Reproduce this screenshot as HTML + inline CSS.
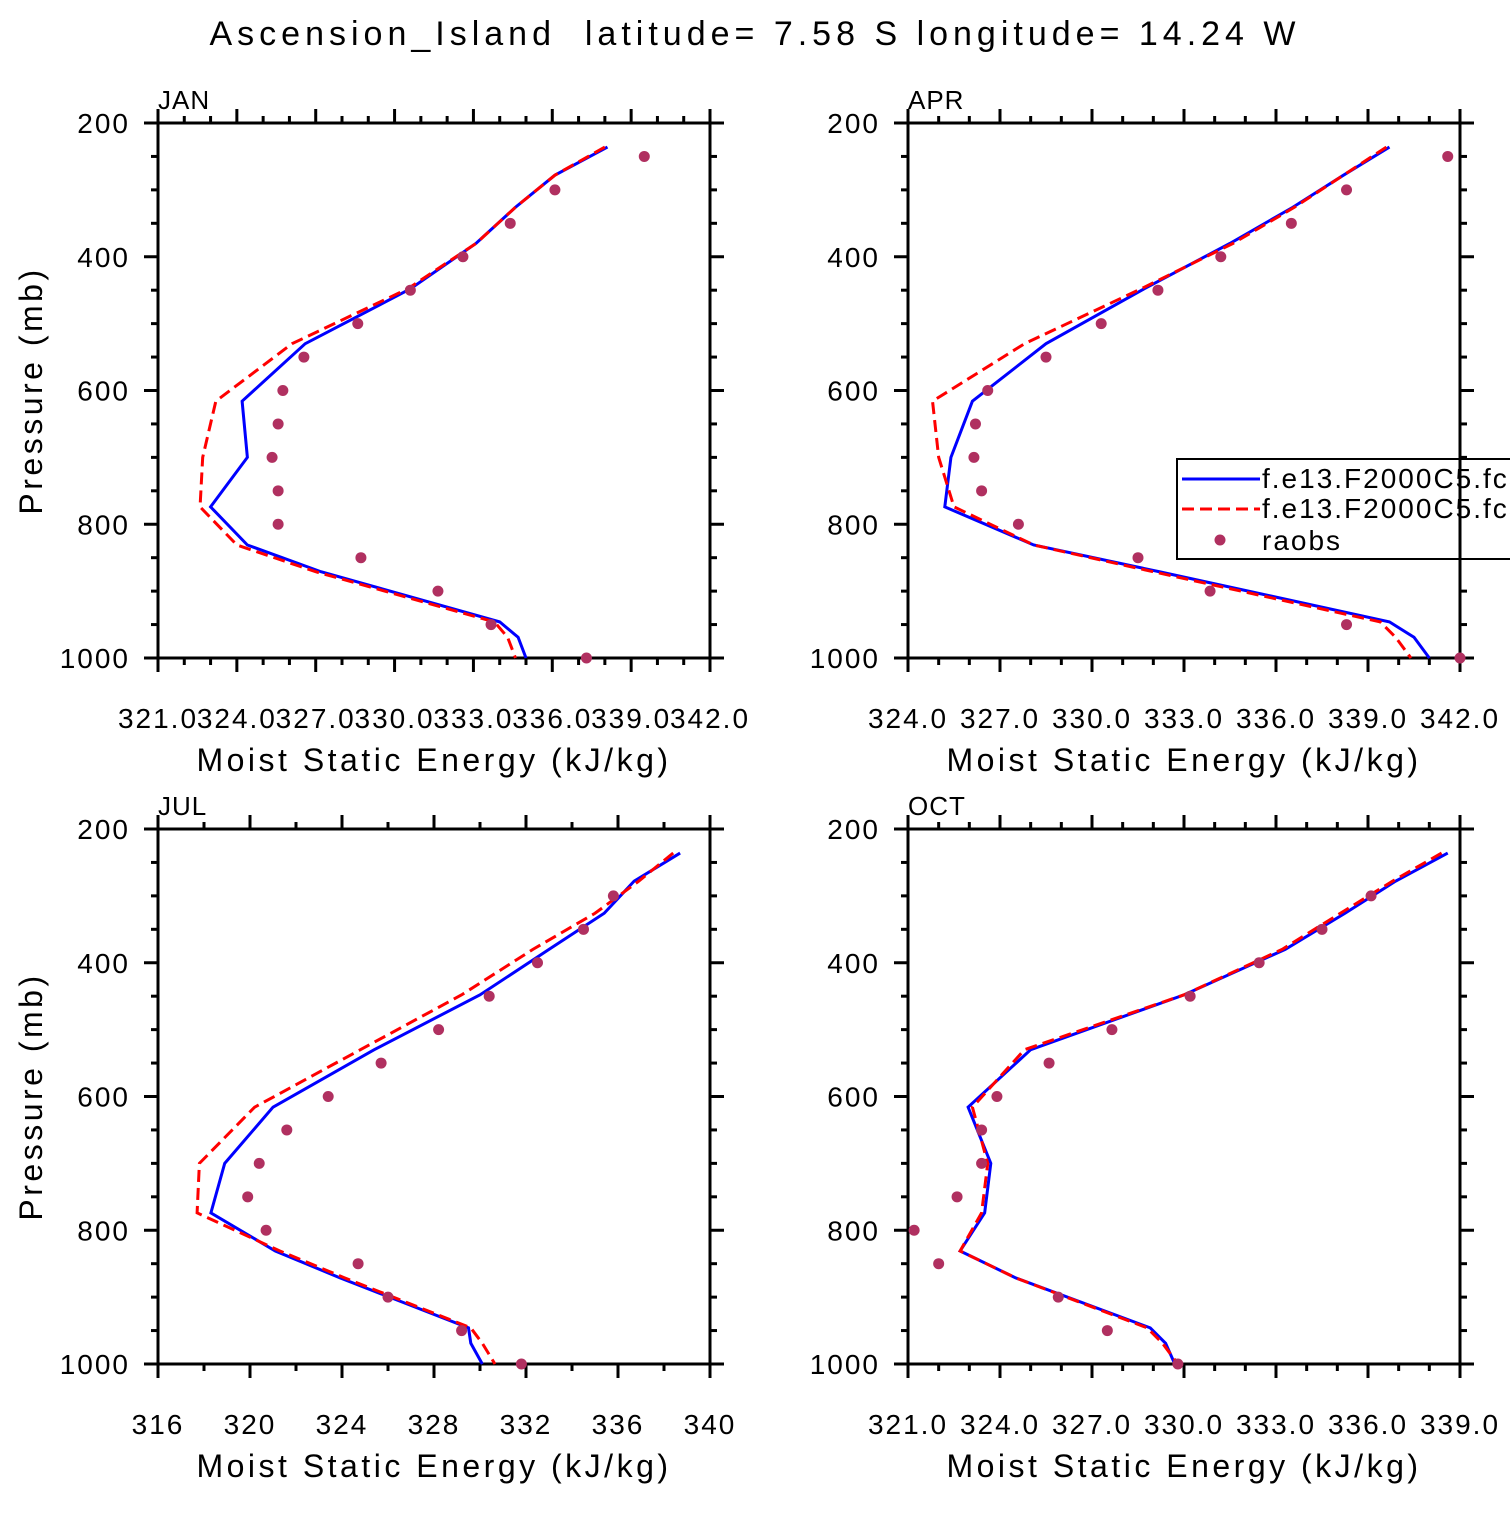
<!DOCTYPE html>
<html><head><meta charset="utf-8"><style>
body{margin:0;background:#fff;}
svg text{font-family:"Liberation Sans",sans-serif;fill:#000;}
</style></head><body>
<svg id="chart" width="1510" height="1510" xmlns="http://www.w3.org/2000/svg">
<rect x="0" y="0" width="1510" height="1510" fill="#fff"/>
<text x="755" y="45" font-size="34" text-anchor="middle" letter-spacing="5" xml:space="preserve">Ascension_Island  latitude= 7.58 S longitude= 14.24 W</text>
</svg>
<script>
const modelP=[236,278,326,380,448,530,616,700,774,831,871,946,969,1000];
const obsP=[250,300,350,400,450,500,550,600,650,700,750,800,850,900,950,1000];
const janBlue=[338.1,336.1,334.6,333.1,330.6,326.6,324.2,324.4,323.0,324.4,327.2,334.0,334.7,335.0];
const janRed=[338.0,336.1,334.6,333.1,330.5,326.1,323.2,322.7,322.6,324.0,327.0,333.8,334.3,334.6];
const janObs=[339.5,336.1,334.4,332.6,330.6,328.6,326.55,325.75,325.57,325.34,325.57,325.57,328.72,331.65,333.67,337.3];
const aprBlue=[339.7,338.2,336.55,334.5,331.7,328.5,326.1,325.4,325.2,328.1,332.2,339.7,340.5,341.0];
const aprRed=[339.6,338.2,336.6,334.6,331.6,327.8,324.8,325.0,325.5,328.1,332.0,339.4,339.9,340.4];
const aprObs=[341.6,338.3,336.5,334.2,332.15,330.3,328.5,326.6,326.2,326.15,326.4,327.6,331.5,333.85,338.3,342.0];
const julBlue=[338.7,336.7,335.4,333.0,330.0,325.4,321.0,318.9,318.3,321.1,323.9,329.5,329.6,330.1];
const julRed=[338.4,336.9,335.0,332.3,329.2,324.8,320.2,317.8,317.7,321.3,324.1,329.6,330.1,330.65];
const julObs=[null,335.8,334.5,332.5,330.4,328.2,325.7,323.4,321.6,320.4,319.9,320.7,324.7,326.0,329.2,331.8];
const octBlue=[338.6,336.9,335.25,333.3,330.0,325.0,322.96,323.7,323.5,322.7,324.5,328.9,329.4,329.7];
const octRed=[338.4,336.8,335.1,333.2,330.0,324.8,323.1,323.6,323.4,322.7,324.5,328.8,329.3,329.8];
const octObs=[null,336.1,334.5,332.45,330.2,327.65,325.6,323.9,323.4,323.4,322.6,321.2,322.0,325.9,327.5,329.8];
const janTicks=["321.0","324.0","327.0","330.0","333.0","336.0","339.0","342.0"];
const aprTicks=["324.0","327.0","330.0","333.0","336.0","339.0","342.0"];
const julTicks=["316","320","324","328","332","336","340"];
const octTicks=["321.0","324.0","327.0","330.0","333.0","336.0","339.0"];
const yTicks=[200,400,600,800,1000];

const NS="http://www.w3.org/2000/svg";
const svg=document.getElementById('chart');
function mk(tag,attrs,parent){const e=document.createElementNS(NS,tag);for(const k in attrs)e.setAttribute(k,attrs[k]);(parent||svg).appendChild(e);return e;}

function panel(name,x0,y0,xmin,xmax,step,minor,ticks,blue,red,obs,showY){
  const W=552,H=535,x1=x0+W,y1=y0+H;
  const g=mk('g',{});
  
  
  const sx=v=>x0+(v-xmin)/(xmax-xmin)*W;
  const sy=p=>y0+(p-200)/800*H;
  for(let v=xmin;v<=xmax+1e-9;v+=minor){
    const major=Math.abs(((v-xmin)/step)-Math.round((v-xmin)/step))<1e-6;
    const L=major?14:7;
    mk('line',{x1:sx(v),x2:sx(v),y1:y1,y2:y1+L,stroke:'#000','stroke-width':3},g);
    mk('line',{x1:sx(v),x2:sx(v),y1:y0,y2:y0-L,stroke:'#000','stroke-width':3},g);
  }
  for(let p=200;p<=1000;p+=50){
    const major=p%200===0;const L=major?14:7;
    mk('line',{x1:x0,x2:x0-L,y1:sy(p),y2:sy(p),stroke:'#000','stroke-width':3},g);
    mk('line',{x1:x1,x2:x1+L,y1:sy(p),y2:sy(p),stroke:'#000','stroke-width':3},g);
  }
  const frame=mk('rect',{x:x0,y:y0,width:W,height:H,fill:'none',stroke:'#000','stroke-width':3},g);
  
  
  ticks.forEach((t,i)=>{
    const tx=mk('text',{x:sx(xmin+i*step),y:y1+70,'font-size':28,'text-anchor':'middle','letter-spacing':'2'},g);
    tx.textContent=t;
    
    
  });
  yTicks.forEach(p=>{
    const tx=mk('text',{x:x0-28,y:sy(p)+10,'font-size':28,'text-anchor':'end','letter-spacing':'2'},g);
    tx.textContent=p;
    
    
  });
  const xt=mk('text',{x:x0+W/2,y:y1+113,'font-size':32,'text-anchor':'middle','letter-spacing':'3.5'},g);
  xt.textContent='Moist Static Energy (kJ/kg)';
  
  
  if(showY){
    const yt=mk('text',{x:0,y:0,'font-size':32,'text-anchor':'middle','letter-spacing':'3.5',transform:`translate(42,${y0+H/2}) rotate(-90)`},g);
    yt.textContent='Pressure (mb)';
    
    
  }
  const lb=mk('text',{x:x0,y:y0-14,'font-size':26,'letter-spacing':'1'},g);
  lb.textContent=name.toUpperCase();
  
  
  const pb=mk('polyline',{points:blue.map((v,i)=>sx(v)+','+sy(modelP[i])).join(' '),fill:'none',stroke:'#0000ff','stroke-width':3},g);
  
  
  const pr=mk('polyline',{points:red.map((v,i)=>sx(v)+','+sy(modelP[i])).join(' '),fill:'none',stroke:'#ff0000','stroke-width':3,'stroke-dasharray':'12,6'},g);
  
  
  obs.forEach((v,i)=>{
    if(v===null)return;
    const c=mk('circle',{cx:sx(v),cy:sy(obsP[i]),r:5.5,fill:'#b03060'},g);
    
    
  });
}
panel('jan',158,123,321,342,3,1,janTicks,janBlue,janRed,janObs,true);
panel('apr',908,123,324,342,3,1,aprTicks,aprBlue,aprRed,aprObs,false);
panel('jul',158,829,316,340,4,2,julTicks,julBlue,julRed,julObs,true);
panel('oct',908,829,321,339,3,1,octTicks,octBlue,octRed,octObs,false);

const lg=mk('g',{});


mk('rect',{x:1177,y:459,width:345,height:100,fill:'#fff',stroke:'#000','stroke-width':2},lg);
mk('line',{x1:1182,x2:1260,y1:479,y2:479,stroke:'#0000ff','stroke-width':3},lg);
mk('line',{x1:1182,x2:1260,y1:509,y2:509,stroke:'#ff0000','stroke-width':3,'stroke-dasharray':'12,6'},lg);
mk('circle',{cx:1220,cy:540,r:5.5,fill:'#b03060'},lg);
[['f.e13.F2000C5.fc5',488],['f.e13.F2000C5.fc5',518],['raobs',550]].forEach(([t,y])=>{
  const tx=mk('text',{x:1262,y:y,'font-size':28,'letter-spacing':'2'},lg);
  tx.textContent=t;
  
  
});
mk('line',{x1:1460,x2:1460,y1:459,y2:559,stroke:'#000','stroke-width':3},lg);
</script>
</body></html>
